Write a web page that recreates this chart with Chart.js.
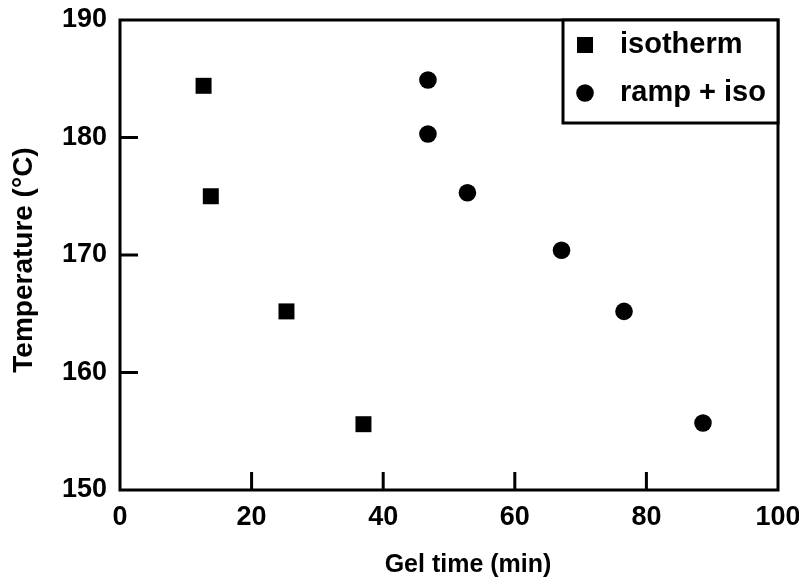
<!DOCTYPE html>
<html>
<head>
<meta charset="utf-8">
<script src="https://cdn.jsdelivr.net/npm/chart.js@4/dist/chart.umd.min.js"></script>
<style>
  html, body { margin: 0; padding: 0; background: #fff; }
  #wrap { width: 799px; height: 583px; }
</style>
</head>
<body>
<div id="wrap"><canvas id="gelchart" width="799" height="583"></canvas></div>
<script>
// gel time vs cure temperature
const isoTime = [12.7, 13.8, 25.3, 37.0];
const isoTemp = [184.4, 175.0, 165.2, 155.6];
const rampTime = [46.8, 46.8, 52.8, 67.1, 76.6, 88.6];
const rampTemp = [184.9, 180.3, 175.3, 170.4, 165.2, 155.7];
const xTicks = [0, 20, 40, 60, 80, 100];
const yTicks = [150, 160, 170, 180, 190];
const xTitle = 'Gel time (min)';
const yTitle = 'Temperature (°C)';

const FONT = 'Liberation Sans, Arial, sans-serif';

const toPoints = (xs, ys) => xs.map((x, i) => ({x: x, y: ys[i]}));

// box around the plot, inward tick marks and axis titles
const framePlugin = {
  id: 'frame',
  afterDatasetsDraw(chart) {
    const {ctx, chartArea: a, scales} = chart;
    ctx.save();
    ctx.strokeStyle = '#000';
    ctx.lineWidth = 3;
    ctx.strokeRect(a.left, a.top, a.right - a.left, a.bottom - a.top);
    ctx.beginPath();
    xTicks.slice(1, -1).forEach(v => {
      const px = scales.x.getPixelForValue(v);
      ctx.moveTo(px, a.bottom);
      ctx.lineTo(px, a.bottom - 18);
    });
    yTicks.slice(1, -1).forEach(v => {
      const py = scales.y.getPixelForValue(v);
      ctx.moveTo(a.left, py);
      ctx.lineTo(a.left + 18, py);
    });
    ctx.stroke();

    ctx.fillStyle = '#000';
    ctx.textAlign = 'center';
    ctx.textBaseline = 'middle';
    ctx.font = 'bold 25px ' + FONT;
    ctx.fillText(xTitle, (a.left + a.right) / 2 + 19, 565);
    ctx.translate(24, (a.top + a.bottom) / 2 + 5);
    ctx.rotate(-Math.PI / 2);
    ctx.font = 'bold 28px ' + FONT;
    ctx.fillText(yTitle, 0, 0);
    ctx.restore();
  }
};

// boxed legend in the top-right corner
const legendBox = {
  id: 'legendBox',
  afterDraw(chart) {
    const {ctx, chartArea: a} = chart;
    const w = 215, h = 103;
    const x0 = a.right - w, y0 = a.top;
    ctx.save();
    ctx.fillStyle = '#fff';
    ctx.fillRect(x0, y0, w, h);
    ctx.strokeStyle = '#000';
    ctx.lineWidth = 3;
    ctx.strokeRect(x0, y0, w, h);
    chart.data.datasets.forEach((ds, i) => {
      const cy = y0 + 25 + i * 48;
      ctx.fillStyle = '#000';
      Chart.helpers.drawPoint(ctx, {
        pointStyle: ds.pointStyle,
        radius: ds.pointStyle === 'rect' ? 11.3 : 8.8,
        rotation: 0,
        borderWidth: 0
      }, x0 + 22, cy);
      ctx.font = 'bold 29px ' + FONT;
      ctx.textBaseline = 'middle';
      ctx.textAlign = 'left';
      ctx.fillText(ds.label, x0 + 57, cy);
    });
    ctx.restore();
  }
};

new Chart(document.getElementById('gelchart'), {
  type: 'scatter',
  data: {
    datasets: [
      {
        label: 'isotherm',
        data: toPoints(isoTime, isoTemp),
        pointStyle: 'rect',
        pointRadius: 11.3,
        backgroundColor: '#000',
        borderColor: '#000',
        borderWidth: 0
      },
      {
        label: 'ramp + iso',
        data: toPoints(rampTime, rampTemp),
        pointStyle: 'circle',
        pointRadius: 8.8,
        backgroundColor: '#000',
        borderColor: '#000',
        borderWidth: 0
      }
    ]
  },
  options: {
    responsive: false,
    animation: false,
    layout: { padding: { top: 20, right: 21, left: 0, bottom: 0 } },
    plugins: {
      legend: { display: false },
      tooltip: { enabled: false }
    },
    scales: {
      x: {
        type: 'linear',
        min: 0,
        max: 100,
        afterFit: s => {
          s.height = 93;
          s.paddingLeft = 0;
          s.paddingRight = 0;
        },
        afterBuildTicks: s => { s.ticks = xTicks.map(v => ({value: v})); },
        grid: { display: false, drawTicks: false },
        border: { display: false },
        ticks: {
          color: '#000',
          padding: 11,
          maxRotation: 0,
          font: { family: FONT, size: 27, weight: 'bold' }
        }
      },
      y: {
        type: 'linear',
        min: 150,
        max: 190,
        afterFit: s => {
          s.width = 120;
          s.paddingTop = 0;
          s.paddingBottom = 0;
        },
        afterBuildTicks: s => { s.ticks = yTicks.map(v => ({value: v})); },
        grid: { display: false, drawTicks: false },
        border: { display: false },
        ticks: {
          color: '#000',
          padding: 13,
          font: { family: FONT, size: 27, weight: 'bold' }
        }
      }
    }
  },
  plugins: [framePlugin, legendBox]
});
</script>
</body>
</html>
